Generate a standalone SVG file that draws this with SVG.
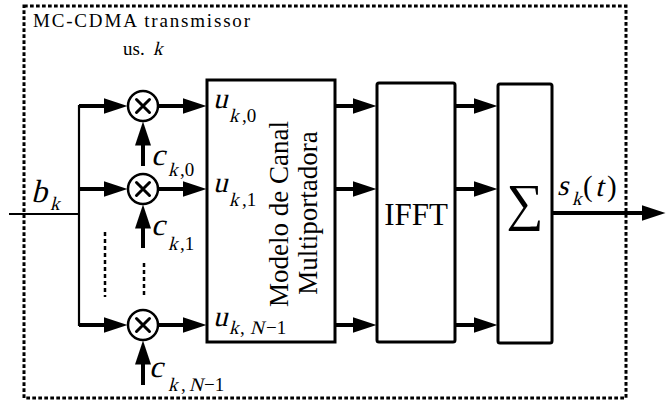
<svg xmlns="http://www.w3.org/2000/svg" width="666" height="405" viewBox="0 0 666 405">
<style>
.t{font-family:"Liberation Serif","Times New Roman",serif;fill:#000}
.box{fill:#fff;stroke:#000;stroke-width:3}
.mul{fill:#fff;stroke:#000;stroke-width:2.5}
.x{stroke:#000;stroke-width:3;stroke-linecap:round}
.ar{stroke:#000;stroke-width:4;fill:none}
.thin{stroke:#000;stroke-width:2.2;fill:none}
.dots{stroke:#000;stroke-width:2.5;stroke-dasharray:4 3;fill:none}
</style>
<defs>
<marker id="ah" markerUnits="userSpaceOnUse" markerWidth="26" markerHeight="18" refX="0.5" refY="8" orient="auto" viewBox="0 0 26 18">
<path d="M0,0 L24,8 L0,16 z" fill="#000"/>
</marker>
</defs>
<rect x="24" y="6" width="602" height="392" fill="none" stroke="#000" stroke-width="3" stroke-dasharray="3.7 2.3"/>
<text class="t" x="33" y="27" font-size="19" textLength="217" lengthAdjust="spacing">MC-CDMA transmissor</text>
<text class="t" x="123" y="55" font-size="19">us.</text>
<text class="t" font-size="19" transform="translate(153,55) skewX(-14)">k</text>

<g id="connectors">
<line class="thin" x1="9" y1="214" x2="79" y2="214"/>
<polyline class="thin" points="104,106 79,106 79,325 104,325"/>
<line class="ar" x1="79" y1="106" x2="104" y2="106" marker-end="url(#ah)"/>
<line class="ar" x1="79" y1="189" x2="104" y2="189" marker-end="url(#ah)"/>
<line class="ar" x1="79" y1="325" x2="104" y2="325" marker-end="url(#ah)"/>
<line class="ar" x1="158" y1="106" x2="183" y2="106" marker-end="url(#ah)"/>
<line class="ar" x1="158" y1="189" x2="183" y2="189" marker-end="url(#ah)"/>
<line class="ar" x1="158" y1="325" x2="183" y2="325" marker-end="url(#ah)"/>
<line class="ar" x1="143" y1="166" x2="143" y2="145" marker-end="url(#ah)"/>
<line class="ar" x1="143" y1="248" x2="143" y2="228" marker-end="url(#ah)"/>
<line class="ar" x1="143" y1="385" x2="143" y2="364" marker-end="url(#ah)"/>
<line class="ar" x1="335" y1="106" x2="353" y2="106" marker-end="url(#ah)"/>
<line class="ar" x1="335" y1="189" x2="353" y2="189" marker-end="url(#ah)"/>
<line class="ar" x1="335" y1="325" x2="353" y2="325" marker-end="url(#ah)"/>
<line class="ar" x1="455" y1="106" x2="474" y2="106" marker-end="url(#ah)"/>
<line class="ar" x1="455" y1="189" x2="474" y2="189" marker-end="url(#ah)"/>
<line class="ar" x1="455" y1="325" x2="474" y2="325" marker-end="url(#ah)"/>
<line class="ar" x1="552" y1="213" x2="642" y2="213" marker-end="url(#ah)"/>
<line class="dots" x1="105" y1="232" x2="105" y2="297"/>
<line class="dots" x1="144" y1="263" x2="144" y2="298"/>
</g>

<g id="b-label">
<text class="t" font-size="32" transform="translate(31,202) skewX(-14)">b</text>
<text class="t" font-size="19" transform="translate(50,210) skewX(-14)">k</text>
</g>

<g id="mul0">
<circle class="mul" cx="143" cy="106" r="15"/>
<path class="x" d="M136.5,99.5 L149.5,112.5 M149.5,99.5 L136.5,112.5"/>
</g>
<g id="mul1">
<circle class="mul" cx="143" cy="189" r="15"/>
<path class="x" d="M136.5,182.5 L149.5,195.5 M149.5,182.5 L136.5,195.5"/>
</g>
<g id="mul2">
<circle class="mul" cx="143" cy="325" r="15"/>
<path class="x" d="M136.5,318.5 L149.5,331.5 M149.5,318.5 L136.5,331.5"/>
</g>

<g id="c-labels">
<text class="t" font-size="31" transform="translate(151,165) skewX(-14)">c</text>
<text class="t" font-size="19" transform="translate(168,176) skewX(-14)">k</text>
<text class="t" font-size="19" x="180" y="176">,0</text>

<text class="t" font-size="31" transform="translate(151,235) skewX(-14)">c</text>
<text class="t" font-size="19" transform="translate(168,250) skewX(-14)">k</text>
<text class="t" font-size="19" x="180" y="250">,1</text>

<text class="t" font-size="31" transform="translate(149,377) skewX(-14)">c</text>
<text class="t" font-size="19" transform="translate(168,391) skewX(-14)">k</text>
<text class="t" font-size="19" x="181" y="391">,</text>
<text class="t" font-size="19" transform="translate(189,391) skewX(-14)">N</text>
<text class="t" font-size="19" x="204" y="391">−1</text>
</g>

<g id="modelo">
<rect class="box" x="207" y="80" width="128" height="262"/>
<text class="t" font-size="29" transform="translate(213,108) skewX(-14)">u</text>
<text class="t" font-size="19" transform="translate(229,122) skewX(-14)">k</text>
<text class="t" font-size="19" x="242" y="122">,0</text>

<text class="t" font-size="29" transform="translate(213,192) skewX(-14)">u</text>
<text class="t" font-size="19" transform="translate(229,206) skewX(-14)">k</text>
<text class="t" font-size="19" x="242" y="206">,1</text>

<text class="t" font-size="29" transform="translate(213,326) skewX(-14)">u</text>
<text class="t" font-size="19" transform="translate(229,334) skewX(-14)">k</text>
<text class="t" font-size="19" x="240" y="334">,</text>
<text class="t" font-size="19" transform="translate(250,334) skewX(-14)">N</text>
<text class="t" font-size="19" x="266" y="334">−1</text>

<text class="t" font-size="27" text-anchor="middle" transform="translate(288,214) rotate(-90)">Modelo de Canal</text>
<text class="t" font-size="27" text-anchor="middle" transform="translate(317,213) rotate(-90)">Multiportadora</text>
</g>

<g id="ifft">
<rect class="box" x="377" y="83" width="78" height="259" rx="2"/>
<text class="t" x="416" y="225" font-size="31" text-anchor="middle">IFFT</text>
</g>

<g id="sum">
<rect class="box" x="498" y="84" width="54" height="259" rx="2"/>
<text class="t" x="525" y="220" font-size="52" text-anchor="middle">∑</text>
</g>

<g id="s-label">
<text class="t" font-size="29" transform="translate(557,195) skewX(-14)">s</text>
<text class="t" font-size="19" transform="translate(572,205) skewX(-14)">k</text>
<text class="t" font-size="29" x="583" y="196">(</text>
<text class="t" font-size="29" transform="translate(595,196) skewX(-14)">t</text>
<text class="t" font-size="29" x="607" y="196">)</text>
</g>
</svg>
